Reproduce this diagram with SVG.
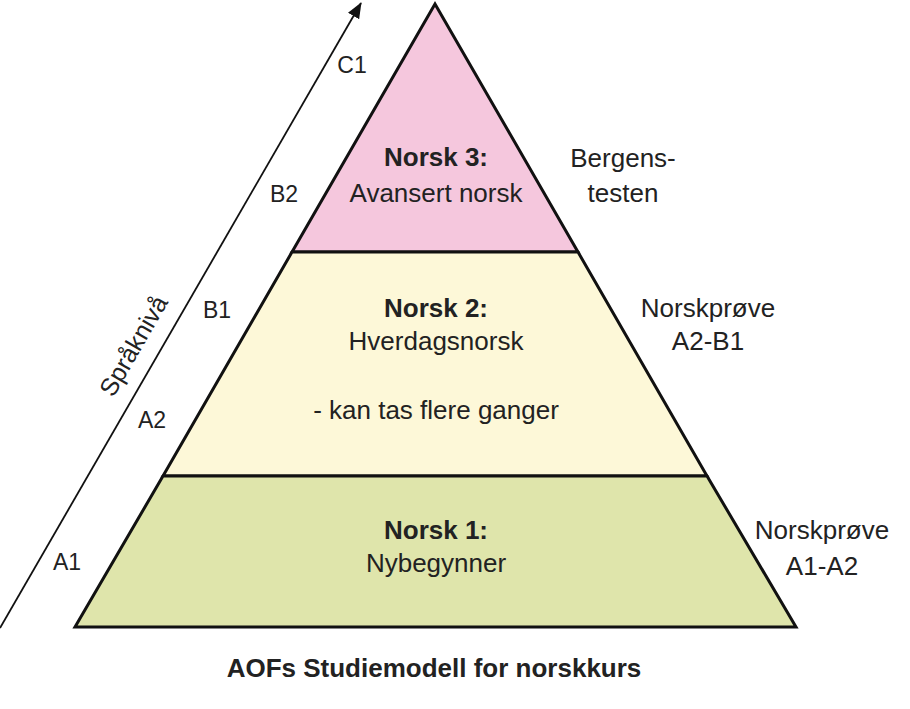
<svg xmlns="http://www.w3.org/2000/svg" width="910" height="709" viewBox="0 0 910 709">
  <defs>
    <marker id="arrowBig" viewBox="0 0 16 13" refX="15" refY="6.5" markerWidth="16" markerHeight="13" markerUnits="userSpaceOnUse" orient="auto">
      <path d="M0,0 L16,6.5 L0,13 z" fill="#111"/>
    </marker>
  </defs>
  <style>
    text { font-family: "Liberation Sans", Arial, sans-serif; fill: #222; }
    .t { font-size: 26px; text-anchor: middle; }
    .b { font-weight: bold; }
    .lvl { font-size: 23px; text-anchor: middle; }
    .rot { font-size: 25px; text-anchor: middle; }
    .tier { stroke: #111; stroke-width: 3; stroke-linejoin: miter; }
  </style>
  <rect width="910" height="709" fill="#ffffff"/>

  <g id="tier3">
    <polygon class="tier" points="435,4 578,252 292,252" fill="#f5c7dd"/>
    <text class="t b" x="436" y="166">Norsk 3:</text>
    <text class="t" x="436" y="202">Avansert norsk</text>
  </g>
  <g id="tier2">
    <polygon class="tier" points="292,252 578,252 707,476 163,476" fill="#fdf8d8"/>
    <text class="t b" x="436" y="317">Norsk 2:</text>
    <text class="t" x="436" y="350">Hverdagsnorsk</text>
    <text class="t" x="436" y="419">- kan tas flere ganger</text>
  </g>
  <g id="tier1">
    <polygon class="tier" points="163,476 707,476 796,627 75,627" fill="#dfe5ab"/>
    <text class="t b" x="436" y="539">Norsk 1:</text>
    <text class="t" x="436" y="572">Nybegynner</text>
  </g>

  <g id="tests">
    <text class="t" x="623" y="167">Bergens-</text>
    <text class="t" x="623" y="202">testen</text>
    <text class="t" x="708" y="317">Norskprøve</text>
    <text class="t" x="708" y="350">A2-B1</text>
    <text class="t" x="822" y="539">Norskprøve</text>
    <text class="t" x="822" y="575">A1-A2</text>
  </g>

  <g id="connectors">
    <line x1="0" y1="628" x2="361" y2="3" stroke="#111" stroke-width="1.8" marker-end="url(#arrowBig)"/>
  </g>

  <g id="levels">
    <text class="lvl" x="352" y="73">C1</text>
    <text class="lvl" x="284" y="202">B2</text>
    <text class="lvl" x="217" y="318">B1</text>
    <text class="lvl" x="152" y="428">A2</text>
    <text class="lvl" x="67" y="570">A1</text>
    <text class="rot" transform="translate(134,346) rotate(-60)" x="0" y="8">Språknivå</text>
  </g>

  <g id="title">
    <text class="t b" x="434" y="677">AOFs Studiemodell for norskkurs</text>
  </g>
</svg>
